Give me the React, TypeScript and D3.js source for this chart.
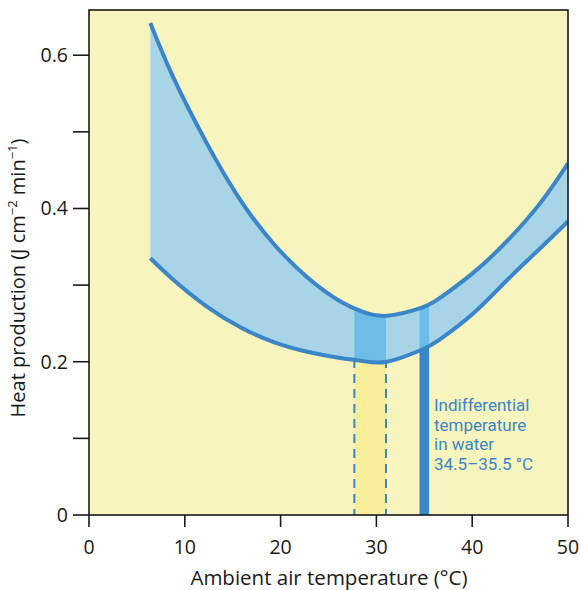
import React from "react";
import * as d3 from "d3";

const temps = [6.4, 8.8, 12.3, 15.8, 19.2, 22.8, 26.2, 28.6, 31.1, 34.6, 36.6, 40.1, 43.6, 47.1, 50];
const upperHeat = [0.642, 0.571, 0.485, 0.411, 0.355, 0.31, 0.279, 0.265, 0.26, 0.27, 0.283, 0.316, 0.357, 0.407, 0.459];
const lowerHeat = [0.335, 0.307, 0.272, 0.245, 0.226, 0.213, 0.205, 0.201, 0.2, 0.215, 0.229, 0.263, 0.306, 0.348, 0.383];
const xTicks = [0, 10, 20, 30, 40, 50];
const yTicks = [0, 0.1, 0.2, 0.3, 0.4, 0.5, 0.6];
const yLabels = [0, 0.2, 0.4, 0.6];
const airNeutral = [27.7, 31.0];
const waterNeutral = [34.5, 35.5];
const noteLines = ["Indifferential", "temperature", "in water", "34.5–35.5 °C"];

const W = 580, H = 590;
const L = 89, R = 568, T = 10, B = 515;

export default function App() {
  const x = d3.scaleLinear().domain([0, 50]).range([L, R]);
  const y = d3.scaleLinear().domain([0, 0.659]).range([B, T]);
  const pts = temps.map((t, i) => ({ t, u: upperHeat[i], l: lowerHeat[i] }));
  const curve = d3.curveNatural;
  const band = d3.area<any>().x(d => x(d.t)).y0(d => y(d.l)).y1(d => y(d.u)).curve(curve);
  const below = d3.area<any>().x(d => x(d.t)).y0(() => y(0)).y1(d => y(d.l)).curve(curve);
  const upLine = d3.line<any>().x(d => x(d.t)).y(d => y(d.u)).curve(curve);
  const loLine = d3.line<any>().x(d => x(d.t)).y(d => y(d.l)).curve(curve);
  const blue = "#3a86c8";
  const font = "'Open Sans', sans-serif";

  return (
    <svg width={W} height={H} style={{ position: "absolute", left: 0, top: 0 }}>
      <defs>
        <clipPath id="bandClip"><path d={band(pts) || ""} /></clipPath>
        <clipPath id="belowClip"><path d={below(pts) || ""} /></clipPath>
        <clipPath id="plotClip"><rect x={L} y={T} width={R - L} height={B - T} /></clipPath>
      </defs>
      <rect x={0} y={0} width={W} height={H} fill="#fff" />
      <rect x={L} y={T} width={R - L} height={B - T} fill="#f8f4be" />
      <path d={band(pts) || ""} fill="#a7d4e6" />
      <g clipPath="url(#bandClip)">
        <rect x={x(airNeutral[0])} y={T} width={x(airNeutral[1]) - x(airNeutral[0])} height={B - T} fill="#6dbde9" />
        <rect x={x(waterNeutral[0])} y={T} width={x(waterNeutral[1]) - x(waterNeutral[0])} height={B - T} fill="#6dbde9" />
      </g>
      <g clipPath="url(#belowClip)">
        <rect x={x(airNeutral[0])} y={T} width={x(airNeutral[1]) - x(airNeutral[0])} height={B - T} fill="#f9ef9b" />
        <rect x={x(waterNeutral[0])} y={T} width={x(waterNeutral[1]) - x(waterNeutral[0])} height={B - T} fill={blue} />
      </g>
      <g clipPath="url(#belowClip)">
        {airNeutral.map((v, i) => (
          <line key={i} x1={x(v)} x2={x(v)} y1={T} y2={B} stroke={blue} strokeWidth={2} strokeDasharray="9,6" strokeDashoffset={-4} />
        ))}
      </g>
      <g clipPath="url(#plotClip)">
        <path d={upLine(pts) || ""} fill="none" stroke={blue} strokeWidth={4} />
        <path d={loLine(pts) || ""} fill="none" stroke={blue} strokeWidth={4} />
      </g>
      <rect x={L} y={T} width={R - L} height={B - T} fill="none" stroke="#1a1a1a" strokeWidth={1.6} />
      {yTicks.map(v => (
        <line key={v} x1={L - 16} x2={L} y1={y(v)} y2={y(v)} stroke="#1a1a1a" strokeWidth={1.6} />
      ))}
      {yLabels.map(v => (
        <text key={v} x={L - 21} y={y(v)} dy="0.36em" textAnchor="end" fontFamily={font} fontSize={19.5} fill="#1a1a1a">
          {v === 0 ? "0" : d3.format(".1f")(v)}
        </text>
      ))}
      {xTicks.map(v => (
        <g key={v}>
          <line x1={x(v)} x2={x(v)} y1={B} y2={B + 12} stroke="#1a1a1a" strokeWidth={1.6} />
          <text x={x(v)} y={554} textAnchor="middle" fontFamily={font} fontSize={19.5} fill="#1a1a1a">{v}</text>
        </g>
      ))}
      <text x={329} y={585} textAnchor="middle" fontFamily={font} fontSize={20.5} fill="#1a1a1a">
        Ambient air temperature (°C)
      </text>
      <text transform={`translate(25,278) rotate(-90)`} textAnchor="middle" fontFamily={font} fontSize={20} fill="#1a1a1a">
        Heat production (J cm<tspan fontSize={13} dy={-8}>−2</tspan><tspan dy={8}>{"  "}min</tspan><tspan fontSize={13} dy={-8}>−1</tspan><tspan dy={8}>)</tspan>
      </text>
      {noteLines.map((s, i) => (
        <text key={i} x={434} y={411 + i * 19.7} fontFamily="Roboto, sans-serif" fontSize={17} fill={blue}>{s}</text>
      ))}
    </svg>
  );
}
